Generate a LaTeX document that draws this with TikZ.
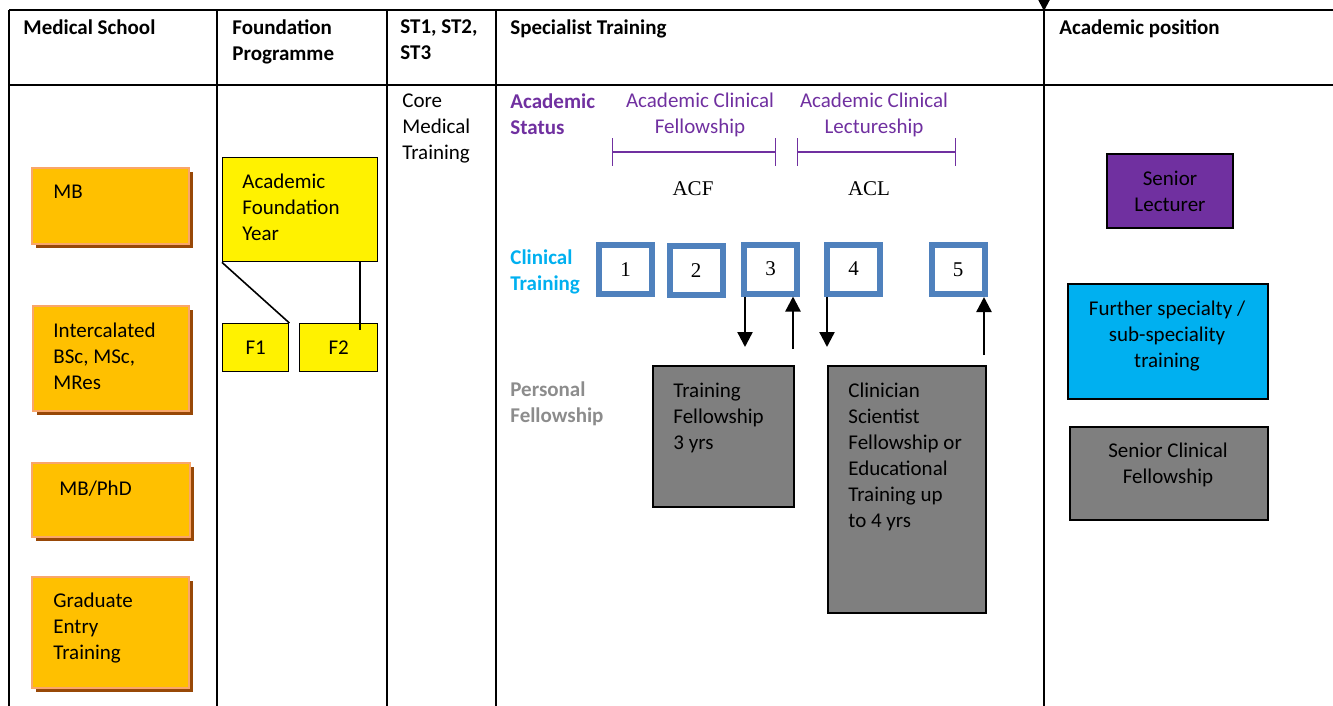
\documentclass[tikz,border=0pt]{standalone}
\usepackage{fontspec}
\setmainfont{Carlito}
\newfontfamily\serifnum{Liberation Serif}
\usetikzlibrary{arrows.meta,shadows}
\definecolor{msfill}{HTML}{FFC000}
\definecolor{msline}{HTML}{F9A66A}
\definecolor{msshadow}{HTML}{984807}
\definecolor{acpurple}{HTML}{7030A0}
\definecolor{clcyan}{HTML}{00B0F0}
\definecolor{ctblue}{HTML}{4F81BD}
\definecolor{pfgray}{HTML}{7F7F7F}
\definecolor{pflabel}{HTML}{8C8C8C}
\newcommand{\txtsize}{\fontsize{10.5}{13}\selectfont}
\tikzset{
  grid/.style={line width=1.1pt},
  hdr/.style={anchor=north west, inner sep=0pt, align=left, font=\txtsize\bfseries},
  txt/.style={anchor=north west, inner sep=0pt, align=left, font=\txtsize},
  ctxt/.style={anchor=north, inner sep=0pt, align=center, font=\txtsize},
  msbox/.style={anchor=north west, draw=msline, fill=msfill, line width=1pt,
    drop shadow={shadow xshift=2pt, shadow yshift=-2pt, fill=msshadow, opacity=1}},
  fybox/.style={anchor=north west, draw, fill=yellow, line width=0.7pt, font=\txtsize},
  ctbox/.style={draw=ctblue, fill=white, line width=3pt, minimum width=26.5pt,
    minimum height=24.5pt, font=\serifnum\txtsize},
  pfbox/.style={anchor=north west, draw, fill=pfgray, line width=1pt},
  bracket/.style={draw=acpurple, line width=0.6pt, {Bar[width=13.5pt]}-{Bar[width=13.5pt]}},
  arr/.style={line width=1.2pt, -{Triangle[width=7.5pt,length=7.5pt]}}
}
\begin{document}
\begin{tikzpicture}[x=0.5pt,y=-0.5pt]
\useasboundingbox (0,0) rectangle (1333,706);
\clip (0,0) rectangle (1333,706);
\draw[grid] (9,10) -- (1340,10);
\draw[grid] (9,85) -- (1340,85);
\foreach \cx in {9,217,387,496,1044}
  \draw[grid] (\cx,10) -- (\cx,712);
\coordinate (above) at (1044,-4);
\coordinate (topline) at (1044,11);
\draw[line width=1pt, -{Triangle[width=6pt,length=6pt]}] (above) -- (topline);

\node[hdr] (h-ms) at (23,19) {Medical School};
\node[hdr] (h-fp) at (232,19) {Foundation\\Programme};
\node[hdr] (h-st) at (400,19) {ST1, ST2,\\ST3};
\node[hdr] (h-sp) at (510,19) {Specialist Training};
\node[hdr] (h-ap) at (1059,19) {Academic position};

\node[msbox, minimum width=78.5pt, minimum height=38pt] (mb) at (31,167) {};
\node[txt] (mb-t) at (53,185) {MB};
\node[msbox, minimum width=78pt, minimum height=52.5pt] (ib) at (32,305) {};
\node[txt] (ib-t) at (53,323) {Intercalated\\BSc, MSc,\\MRes};
\node[msbox, minimum width=79pt, minimum height=37pt] (phd) at (31,462) {};
\node[txt] (phd-t) at (59,481) {MB/PhD};
\node[msbox, minimum width=78.5pt, minimum height=55.5pt] (ge) at (31,576) {};
\node[txt] (ge-t) at (53,593) {Graduate\\Entry\\Training};

\node[fybox, minimum width=77.5pt, minimum height=52pt] (afy) at (222,157) {};
\node[txt] (afy-t) at (242,174) {Academic\\Foundation\\Year};
\node[fybox, minimum width=33pt, minimum height=24pt] (f1) at (222,323) {F1};
\node[fybox, minimum width=39pt, minimum height=24pt] (f2) at (299,323) {F2};
\coordinate (f2in) at (360,330);
\draw[line width=0.8pt] (afy.south west) -- (f1.north east);
\draw[line width=0.8pt] (afy.south -| f2in) -- (f2in);

\node[txt] (cmt) at (402,93) {Core\\Medical\\Training};

\node[hdr, text=acpurple] (as) at (510,93) {Academic\\Status};
\node[ctxt, text=acpurple] (acf-l) at (700,93) {Academic Clinical\\Fellowship};
\node[ctxt, text=acpurple] (acl-l) at (874,93) {Academic Clinical\\Lectureship};
\draw[bracket] (612,152) -- (776,152);
\draw[bracket] (797,152) -- (956,152);
\node[anchor=base, inner sep=0pt, font=\serifnum\txtsize] (acf) at (693,195) {ACF};
\node[anchor=base, inner sep=0pt, font=\serifnum\txtsize] (acl) at (869,195) {ACL};

\node[hdr, text=clcyan] (ct) at (510,249) {Clinical\\Training};
\node[ctbox] (b1) at (625.5,269.5) {1};
\node[ctbox] (b2) at (696,270.5) {2};
\node[ctbox] (b3) at (770.5,269) {3};
\node[ctbox] (b4) at (853.5,269) {4};
\node[ctbox] (b5) at (958,269.5) {5};

\node[hdr, text=pflabel] (pf) at (510,381) {Personal\\Fellowship};
\node[pfbox, minimum width=70.5pt, minimum height=70.5pt] (tf) at (652,365) {};
\node[txt] (tf-t) at (673,383) {Training\\Fellowship\\3 yrs};
\node[pfbox, minimum width=79pt, minimum height=123.5pt] (csf) at (827,365) {};
\node[txt] (csf-t) at (848,383) {Clinician\\Scientist\\Fellowship or\\Educational\\Training up\\to 4 yrs};

\coordinate (tfin) at (745,347);
\coordinate (tfout) at (793,349);
\coordinate (csfin) at (827,347);
\coordinate (csfout) at (984,355);
\draw[arr] (b3.south -| tfin) -- (tfin);
\draw[arr] (tfout) -- (tfout |- b3.south);
\draw[arr] (b4.south -| csfin) -- (csfin);
\draw[arr] (csfout) -- (csfout |- b5.south);

\node[draw, fill=acpurple, line width=1pt, align=center, font=\txtsize,
  minimum width=63pt, minimum height=37pt] (sl) at (1170,191) {Senior\\Lecturer};
\node[draw, fill=clcyan, line width=1pt, anchor=north west,
  minimum width=100pt, minimum height=57.5pt] (fs) at (1067,283) {};
\node[ctxt] (fs-t) at (1167,301) {Further specialty /\\sub-speciality\\training};
\node[pfbox, minimum width=99pt, minimum height=46.5pt] (scf) at (1069,426) {};
\node[ctxt] (scf-t) at (1168,443) {Senior Clinical\\Fellowship};
\end{tikzpicture}
\end{document}
